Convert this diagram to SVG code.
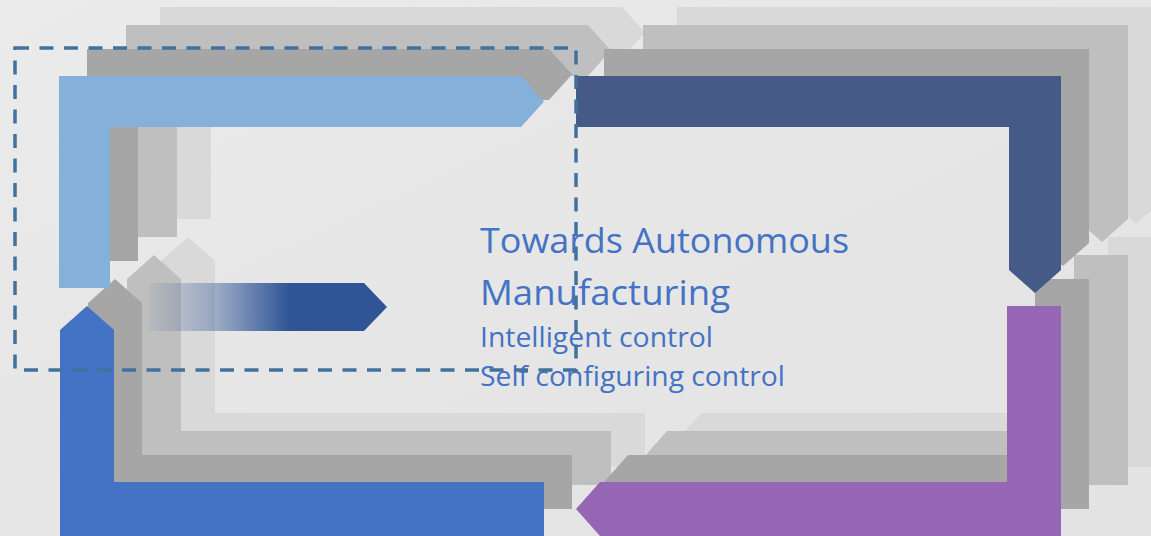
<svg xmlns="http://www.w3.org/2000/svg" xmlns:xlink="http://www.w3.org/1999/xlink" width="1151" height="536" viewBox="0 0 1151 536">
  <style>
    .l3 { fill: #d9d9d9; }
    .l2 { fill: #bfbfbf; }
    .l1 { fill: #a6a6a6; }
    .title { font-family: "Open Sans", "Noto Sans", "Liberation Sans", sans-serif; fill: #4472c4; }
    .frame { fill: none; stroke: #41719c; stroke-width: 3.5; stroke-dasharray: 14 10.5; }
  </style>
  <defs>
    <linearGradient id="bg" x1="0" y1="0" x2="1" y2="1">
      <stop offset="0" stop-color="#ebebeb"/>
      <stop offset="0.5" stop-color="#e6e6e6"/>
      <stop offset="1" stop-color="#e3e3e3"/>
    </linearGradient>
    <linearGradient id="fade" gradientUnits="userSpaceOnUse" x1="149" y1="0" x2="387" y2="0">
      <stop offset="0" stop-color="#2f5597" stop-opacity="0.05"/>
      <stop offset="0.28" stop-color="#2f5597" stop-opacity="0.4"/>
      <stop offset="0.59" stop-color="#2f5597" stop-opacity="1"/>
      <stop offset="1" stop-color="#2f5597" stop-opacity="1"/>
    </linearGradient>
    <!-- bent arrow outlines; grey copies are shifted up and right -->
    <polygon id="shape-tl" points="59,76 521,76 544,101.5 521,127 110,127 110,288 59,288"/>
    <polygon id="shape-tr" points="576,76 1061,76 1061,270 1035,293 1009,270 1009,127 576,127"/>
    <polygon id="shape-br" points="1007,306 1061,306 1061,536 600,536 576,509 600,482 1007,482"/>
    <polygon id="shape-bl" points="87,306 114,330 114,482 544,482 544,536 60,536 60,330"/>
  </defs>

  <rect x="0" y="0" width="1151" height="536" fill="url(#bg)"/>

  <g id="arrow-bottom-left">
    <use xlink:href="#shape-bl" class="l3" transform="translate(101,-69)"/>
    <use xlink:href="#shape-bl" class="l2" transform="translate(67,-51)"/>
    <use xlink:href="#shape-bl" class="l1" transform="translate(28,-27)"/>
    <use xlink:href="#shape-bl" fill="#4472c4"/>
  </g>

  <g id="arrow-bottom-right">
    <use xlink:href="#shape-br" class="l3" transform="translate(101,-69)"/>
    <use xlink:href="#shape-br" class="l2" transform="translate(67,-51)"/>
    <use xlink:href="#shape-br" class="l1" transform="translate(28,-27)"/>
    <use xlink:href="#shape-br" fill="#9566b4"/>
  </g>

  <g id="arrow-top-left">
    <use xlink:href="#shape-tl" class="l3" transform="translate(101,-69)"/>
    <use xlink:href="#shape-tl" class="l2" transform="translate(67,-51)"/>
    <use xlink:href="#shape-tl" class="l1" transform="translate(28,-27)"/>
    <use xlink:href="#shape-tl" fill="#85b0da"/>
  </g>

  <g id="arrow-top-right">
    <use xlink:href="#shape-tr" class="l3" transform="translate(101,-69)"/>
    <use xlink:href="#shape-tr" class="l2" transform="translate(67,-51)"/>
    <use xlink:href="#shape-tr" class="l1" transform="translate(28,-27)"/>
    <use xlink:href="#shape-tr" fill="#455a87"/>
  </g>

  <g id="arrow-center">
    <polygon points="149,283 364,283 387,307 364,331 149,331" fill="url(#fade)"/>
  </g>

  <g id="caption">
    <text class="title" x="480" y="252.5" font-size="35" textLength="369" lengthAdjust="spacingAndGlyphs">Towards Autonomous</text>
    <text class="title" x="480" y="305" font-size="35" textLength="250" lengthAdjust="spacingAndGlyphs">Manufacturing</text>
    <text class="title" x="480" y="347" font-size="28" textLength="233" lengthAdjust="spacingAndGlyphs">Intelligent control</text>
    <text class="title" x="480" y="386" font-size="28" textLength="305" lengthAdjust="spacingAndGlyphs">Self configuring control</text>
  </g>

  <g id="frame">
    <rect class="frame" x="15" y="48" width="561" height="322"/>
  </g>
</svg>
